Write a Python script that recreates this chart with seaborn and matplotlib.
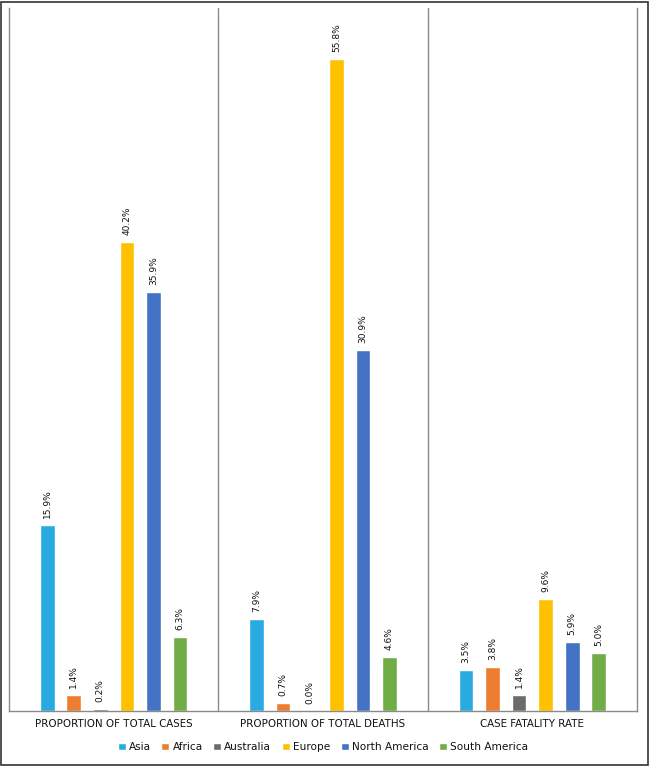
import matplotlib
matplotlib.use("Agg")
import matplotlib.pyplot as plt
import seaborn as sns
import pandas as pd
from matplotlib.patches import Rectangle

metrics = ["PROPORTION OF TOTAL CASES", "PROPORTION OF TOTAL DEATHS", "CASE FATALITY RATE"]
regions = ["Asia", "Africa", "Australia", "Europe", "North America", "South America"]
total_cases = [15.9, 1.4, 0.2, 40.2, 35.9, 6.3]
total_deaths = [7.9, 0.7, 0.0, 55.8, 30.9, 4.6]
fatality_rate = [3.5, 3.8, 1.4, 9.6, 5.9, 5.0]
colors = ["#29ABE2", "#ED7D31", "#6B6B6B", "#FFC000", "#4472C4", "#70AD47"]

rows = []
for m, vals in zip(metrics, [total_cases, total_deaths, fatality_rate]):
    for r, v in zip(regions, vals):
        rows.append({"metric": m, "region": r, "value": v})
df = pd.DataFrame(rows)

sns.set_theme(style="white")
plt.rcParams["font.family"] = ["DejaVu Sans"]

W, H = 649, 766
fig = plt.figure(figsize=(W / 100, H / 100), dpi=100)
ax = fig.add_axes([9 / W, 1 - 711 / H, (637 - 9) / W, (711 - 8) / H])

sns.barplot(data=df, x="metric", y="value", hue="region", order=metrics,
            hue_order=regions, palette=colors, width=0.762, gap=0.45,
            saturation=1, ax=ax, legend=True)

ax.set_xlim(-0.5, 2.5)
ax.set_ylim(0, 60.2)
ax.set_yticks([])
ax.set_xlabel("")
ax.set_ylabel("")
ax.tick_params(axis="x", length=0, pad=5.5)
ax.set_xticks(range(3))
ax.set_xticklabels(metrics, fontsize=7.4, color="#111111")

for s in ["left", "right", "bottom"]:
    ax.spines[s].set_color("#8a8a8a")
    ax.spines[s].set_linewidth(1.0)
ax.spines["top"].set_visible(False)
for xv in [0.5, 1.5]:
    ax.axvline(xv, color="#8a8a8a", lw=1.0)

for cont in ax.containers:
    for bar in cont:
        h = bar.get_height()
        ax.annotate(f"{h:.1f}%", (bar.get_x() + bar.get_width() / 2, h),
                    xytext=(0, 5), textcoords="offset points",
                    rotation=90, ha="center", va="bottom", fontsize=6.5,
                    color="#111111")

leg = ax.legend(loc="upper center", bbox_to_anchor=(0.5, -0.031), ncol=6,
                frameon=False, fontsize=7.6, handlelength=0.75, handleheight=0.75,
                handletextpad=0.3, columnspacing=1.0)
for t in leg.get_texts():
    t.set_color("#111111")

fig.patches.append(Rectangle((0.001, 0.001), 0.997, 0.997, transform=fig.transFigure,
                             fill=False, edgecolor="#333333", lw=1.2))

fig.savefig("out.png", dpi=100)
